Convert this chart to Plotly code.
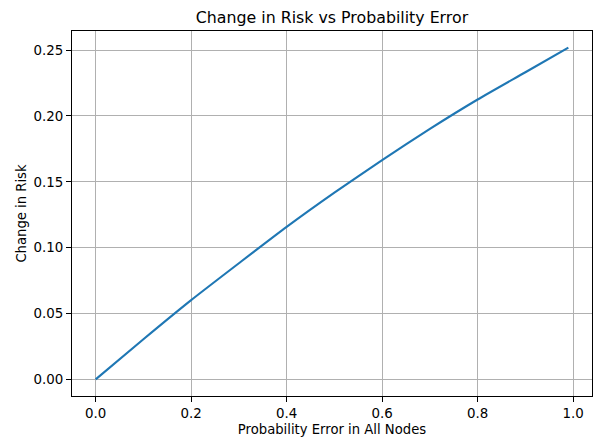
import plotly.graph_objects as go

prob_error = [0.0, 0.1, 0.2, 0.3, 0.4, 0.5, 0.6, 0.7, 0.8, 0.9, 0.99]
risk_change = [0.0, 0.0305, 0.0602, 0.0882, 0.1158, 0.1418, 0.1665, 0.1902, 0.2125, 0.2332, 0.2519]

x_ticks = [0.0, 0.2, 0.4, 0.6, 0.8, 1.0]
y_ticks = [0.00, 0.05, 0.10, 0.15, 0.20, 0.25]

font = "DejaVu Sans"

fig = go.Figure()
fig.add_trace(go.Scatter(x=prob_error, y=risk_change, mode="lines",
                         line=dict(color="#1f77b4", width=2.1, shape="spline", smoothing=0.6),
                         showlegend=False))

xmin, xmax = min(prob_error), max(prob_error)
ymin, ymax = min(risk_change), max(risk_change)
dx = (xmax - xmin) * 0.05
dy = (ymax - ymin) * 0.05

axis_common = dict(showline=True, linecolor="black", linewidth=1.1, mirror=True,
                   ticks="outside", ticklen=5, tickwidth=1.1, tickcolor="black",
                   showgrid=True, gridcolor="#b0b0b0", gridwidth=1.1, zeroline=False,
                   tickfont=dict(family=font, size=13.4, color="black"))

fig.update_layout(
    width=595, height=437,
    margin=dict(l=72, r=3, t=31, b=41),
    paper_bgcolor="white", plot_bgcolor="white",
    font=dict(family=font, color="black"),
    title=dict(text="Change in Risk vs Probability Error", x=0.5, xref="paper",
               y=1 - 17 / 437, yref="container", yanchor="middle", xanchor="center",
               font=dict(family=font, size=15.8, color="black")),
    xaxis=dict(range=[xmin - dx, xmax + dx], tickvals=x_ticks, tickformat=".1f",
               title=dict(text="Probability Error in All Nodes", standoff=4,
                          font=dict(family=font, size=13.2, color="black")),
               **axis_common),
    yaxis=dict(range=[ymin - dy, ymax + dy], tickvals=y_ticks, tickformat=".2f",
               title=dict(text="Change in Risk", standoff=3,
                          font=dict(family=font, size=13.2, color="black")),
               **axis_common),
)

fig.write_html("out.html", config={"displayModeBar": False},
               post_script="document.body.style.margin='0';")
